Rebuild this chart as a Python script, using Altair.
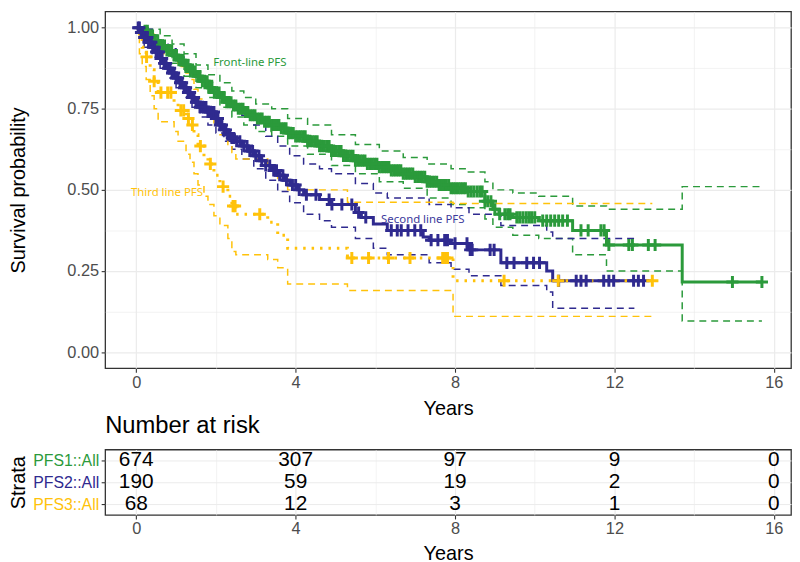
import altair as alt
import pandas as pd

GREEN = "#2b9a3b"
PURPLE = "#2f2a8f"
YELLOW = "#ffc20a"
FONT = "Liberation Sans"

groups = ["PFS1", "PFS2", "PFS3"]
group_colors = [GREEN, "#3d3a9c", YELLOW]

# ---- Kaplan-Meier step curves (time in years, survival) ----
g_t = [0, 0.15, 0.3, 0.45, 0.6, 0.75, 0.9, 1.05, 1.2, 1.35, 1.5, 1.65, 1.8, 1.95, 2.1, 2.25, 2.4, 2.55, 2.7, 2.85,
       3.0, 3.2, 3.4, 3.6, 3.8, 4.0, 4.3, 4.6, 4.9, 5.2, 5.5, 5.8, 6.1, 6.4, 6.7, 7.0, 7.3, 7.6, 7.9, 8.3,
       8.75, 8.95, 9.1, 9.45, 10.1, 10.95, 11.8, 13.7, 15.7]
g_s = [1.0, 0.99, 0.975, 0.96, 0.945, 0.93, 0.915, 0.9, 0.885, 0.865, 0.85, 0.835, 0.815, 0.8, 0.785, 0.77, 0.76, 0.75, 0.74, 0.73,
       0.72, 0.71, 0.70, 0.69, 0.675, 0.665, 0.65, 0.635, 0.62, 0.605, 0.59, 0.58, 0.57, 0.56, 0.55, 0.54, 0.525, 0.515, 0.505, 0.495,
       0.465, 0.44, 0.425, 0.415, 0.405, 0.375, 0.33, 0.216, 0.216]
gu_t = [0, 0.3, 0.6, 0.9, 1.2, 1.5, 1.8, 2.1, 2.4, 2.7, 3.0, 3.4, 3.8, 4.3, 4.9, 5.5, 6.1, 6.7, 7.3, 7.9,
        8.3, 8.75, 8.95, 9.45, 10.1, 10.95, 11.8, 13.7, 15.7]
gu_s = [1.0, 0.995, 0.975, 0.95, 0.92, 0.885, 0.855, 0.83, 0.805, 0.785, 0.765, 0.75, 0.72, 0.70, 0.67, 0.64, 0.62, 0.60, 0.58, 0.565,
        0.555, 0.525, 0.50, 0.49, 0.48, 0.45, 0.44, 0.51, 0.51]
gl_t = [0, 0.3, 0.6, 0.9, 1.2, 1.5, 1.8, 2.1, 2.4, 2.7, 3.0, 3.4, 3.8, 4.3, 4.9, 5.5, 6.1, 6.7, 7.3, 7.9,
        8.3, 8.75, 8.95, 9.45, 10.1, 10.95, 11.8, 13.7, 15.7]
gl_s = [1.0, 0.955, 0.925, 0.89, 0.85, 0.815, 0.785, 0.755, 0.725, 0.70, 0.68, 0.665, 0.635, 0.61, 0.575, 0.55, 0.525, 0.505, 0.475, 0.455,
        0.445, 0.41, 0.385, 0.36, 0.35, 0.30, 0.25, 0.096, 0.096]

p_t = [0, 0.1, 0.2, 0.3, 0.4, 0.5, 0.6, 0.7, 0.8, 0.9, 1.0, 1.1, 1.2, 1.3, 1.4, 1.5, 1.6, 1.8, 2.0, 2.1,
       2.2, 2.3, 2.4, 2.5, 2.65, 2.8, 2.95, 3.1, 3.25, 3.4, 3.55, 3.7, 3.85, 4.05, 4.2, 4.6, 4.9, 5.5, 5.65, 5.95,
       6.3, 7.2, 7.35, 7.9, 8.35, 9.15, 10.3, 10.45, 12.73]
p_s = [1.0, 0.985, 0.97, 0.955, 0.94, 0.925, 0.905, 0.89, 0.875, 0.86, 0.845, 0.83, 0.815, 0.80, 0.785, 0.77, 0.755, 0.74, 0.72, 0.70,
       0.685, 0.67, 0.66, 0.65, 0.635, 0.62, 0.605, 0.59, 0.575, 0.56, 0.545, 0.53, 0.515, 0.50, 0.485, 0.47, 0.455, 0.43, 0.415, 0.395,
       0.375, 0.355, 0.345, 0.335, 0.315, 0.275, 0.25, 0.22, 0.22]
pu_t = [0, 0.2, 0.4, 0.6, 0.8, 1.0, 1.2, 1.4, 1.6, 1.8, 2.0, 2.2, 2.4, 2.65, 2.95, 3.25, 3.55, 3.85, 4.2, 4.6,
        4.9, 5.5, 5.95, 6.3, 7.35, 7.9, 8.35, 9.15, 10.3, 10.45, 12.5]
pu_s = [1.0, 0.995, 0.975, 0.955, 0.935, 0.91, 0.885, 0.86, 0.835, 0.815, 0.795, 0.775, 0.755, 0.73, 0.70, 0.665, 0.635, 0.605, 0.58, 0.565,
        0.55, 0.52, 0.49, 0.475, 0.455, 0.445, 0.425, 0.39, 0.37, 0.35, 0.35]
pl_t = [0, 0.2, 0.4, 0.6, 0.8, 1.0, 1.2, 1.4, 1.6, 1.8, 2.0, 2.2, 2.4, 2.65, 2.95, 3.25, 3.55, 3.85, 4.2, 4.6,
        4.9, 5.5, 5.95, 6.3, 7.35, 7.9, 8.35, 9.15, 10.3, 10.45, 12.5]
pl_s = [1.0, 0.94, 0.91, 0.875, 0.845, 0.815, 0.785, 0.755, 0.725, 0.70, 0.675, 0.65, 0.625, 0.595, 0.565, 0.53, 0.495, 0.46, 0.425, 0.405,
        0.385, 0.35, 0.32, 0.30, 0.275, 0.255, 0.235, 0.205, 0.185, 0.135, 0.135]

y_t = [0, 0.08, 0.15, 0.25, 0.35, 0.45, 0.55, 0.95, 1.05, 1.25, 1.35, 1.45, 1.55, 1.7, 1.8, 1.95, 2.1, 2.3, 2.4, 2.5,
       3.3, 3.55, 3.8, 5.3, 7.95, 12.95]
y_s = [1.0, 0.97, 0.94, 0.91, 0.87, 0.835, 0.80, 0.77, 0.745, 0.72, 0.70, 0.67, 0.635, 0.60, 0.58, 0.545, 0.51, 0.48, 0.45, 0.425,
       0.40, 0.36, 0.32, 0.29, 0.22, 0.22]
yu_t = [0, 0.25, 0.45, 0.55, 0.95, 1.05, 1.25, 1.35, 1.45, 1.55, 1.7, 1.8, 1.95, 2.1, 2.3, 2.4, 2.5, 3.3, 3.55, 3.8,
        5.3, 7.95, 12.95]
yu_s = [1.0, 0.98, 0.95, 0.92, 0.90, 0.88, 0.86, 0.84, 0.81, 0.78, 0.75, 0.73, 0.70, 0.67, 0.64, 0.615, 0.595, 0.57, 0.535, 0.50,
        0.462, 0.458, 0.458]
yl_t = [0, 0.08, 0.15, 0.25, 0.35, 0.45, 0.55, 0.95, 1.05, 1.25, 1.35, 1.45, 1.55, 1.7, 1.8, 1.95, 2.1, 2.3, 2.4, 2.5,
        3.3, 3.55, 3.8, 5.3, 7.95, 12.95]
yl_s = [1.0, 0.92, 0.88, 0.84, 0.79, 0.75, 0.71, 0.68, 0.65, 0.61, 0.585, 0.55, 0.515, 0.48, 0.455, 0.42, 0.39, 0.35, 0.31, 0.30,
        0.285, 0.26, 0.21, 0.19, 0.11, 0.11]

# ---- censoring times (years) ----
g_cens = [0.22, 0.28, 0.35, 0.41, 0.48, 0.54, 0.6, 0.66, 0.71, 0.77, 0.83, 0.89, 0.95, 1.01, 1.07, 1.12, 1.18, 1.24,
          1.3, 1.36, 1.42, 1.48, 1.55, 1.6, 1.66, 1.72, 1.78, 1.84, 1.9, 1.96, 2.02, 2.08, 2.15, 2.21, 2.27, 2.33,
          2.38, 2.44, 2.5, 2.56, 2.62, 2.68, 2.74, 2.8, 2.86, 2.92, 2.98, 3.04, 3.1, 3.16, 3.22, 3.28, 3.34, 3.4,
          3.46, 3.52, 3.58, 3.64, 3.7, 3.76, 3.82, 3.88, 3.94, 4.0, 4.06, 4.12, 4.18, 4.24, 4.3, 4.36, 4.42, 4.48,
          4.54, 4.6, 4.66, 4.72, 4.78, 4.84, 4.9, 4.96, 5.02, 5.08, 5.14, 5.2, 5.26, 5.32, 5.38, 5.44, 5.5, 5.56,
          5.62, 5.68, 5.74, 5.8, 5.86, 5.92, 5.98, 6.04, 6.1, 6.16, 6.22, 6.28, 6.34, 6.4, 6.46, 6.52, 6.58, 6.64,
          6.7, 6.76, 6.82, 6.88, 6.94, 7.0, 7.06, 7.12, 7.18, 7.24, 7.3, 7.36, 7.42, 7.48, 7.54, 7.6, 7.66, 7.72,
          7.78, 7.84, 7.9, 7.96, 8.02, 8.08, 8.14, 8.2, 8.26, 8.33, 8.4, 8.47, 8.55, 8.62, 8.68, 8.75, 8.82, 8.9,
          9.0, 9.12, 9.25, 9.32, 9.38, 9.55, 9.62, 9.7, 9.78, 9.85, 9.92, 10.0, 10.2, 10.3, 10.4, 10.5, 10.6, 10.7,
          10.82, 11.16, 11.34, 11.66, 11.74, 11.86, 12.36, 12.45, 12.85, 13.02, 14.96, 15.7]
p_cens = [0.05, 0.08, 0.12, 0.16, 0.2, 0.24, 0.28, 0.31, 0.35, 0.38, 0.42, 0.46, 0.5, 0.53, 0.57, 0.61, 0.65, 0.7,
          0.75, 0.8, 0.85, 0.9, 0.95, 1.0, 1.05, 1.1, 1.15, 1.2, 1.25, 1.3, 1.35, 1.4, 1.45, 1.5, 1.55, 1.6, 1.65,
          1.7, 1.75, 1.8, 1.85, 1.9, 1.95, 2.0, 2.05, 2.1, 2.15, 2.2, 2.25, 2.3, 2.35, 2.4, 2.45, 2.52, 2.6, 2.7,
          2.78, 2.85, 2.92, 3.0, 3.08, 3.15, 3.25, 3.35, 3.45, 3.52, 3.6, 3.68, 3.77, 3.92, 4.0, 4.09, 4.27, 4.51,
          4.84, 4.91, 5.16, 5.41, 5.58, 5.76, 6.4, 6.55, 6.65, 6.82, 6.99, 7.14, 7.4, 7.57, 7.74, 7.81, 8.0, 8.3,
          8.38, 8.43, 8.88, 8.98, 9.3, 9.48, 9.8, 9.97, 10.12, 10.6, 11.04, 11.16, 11.29, 11.73, 11.86, 11.98,
          12.48, 12.6, 12.73]
y_cens = [0.26, 0.45, 0.62, 0.79, 0.87, 1.12, 1.19, 1.31, 1.41, 1.61, 1.86, 2.18, 2.43, 2.48, 3.1, 5.41, 5.83, 6.33, 6.87,
          7.69, 7.74, 7.81, 9.23, 10.59, 12.95]

# ---- labels on the curves ----
label_text = ["Front-line PFS", "Second line PFS", "Third line PFS"]
label_t = [2.85, 7.19, 0.77]
label_s = [0.892, 0.407, 0.491]

# ---- number at risk table ----
risk_times = [0, 4, 8, 12, 16]
strata = ["PFS1::All", "PFS2::All", "PFS3::All"]
risk_pfs1 = [674, 307, 97, 9, 0]
risk_pfs2 = [190, 59, 19, 2, 0]
risk_pfs3 = [68, 12, 3, 1, 0]

x_ticks = [0, 2, 4, 6, 8, 10, 12, 14, 16]
y_ticks = [0, 0.125, 0.25, 0.375, 0.5, 0.625, 0.75, 0.875, 1.0]


def step_at(ts, ss, t):
    val = ss[0]
    for ti, si in zip(ts, ss):
        if ti <= t:
            val = si
    return val


xscale = alt.Scale(domain=[-0.78, 16.43], nice=False, zero=False)
yscale = alt.Scale(domain=[-0.05, 1.05], nice=False, zero=False)

major_x = "datum.value % 4 === 0"
major_y = "round(datum.value * 8) % 2 === 0"


def x_axis(title="Years", pad=8):
    return alt.Axis(values=x_ticks, title=title,
                    labelExpr="datum.value % 4 === 0 ? datum.label : ''",
                    tickOpacity={"condition": {"test": major_x, "value": 1}, "value": 0},
                    gridWidth={"condition": {"test": major_x, "value": 1.2}, "value": 0.6},
                    labelFontSize=16.5, titleFontSize=20, labelPadding=2, titlePadding=pad)


y_axis = alt.Axis(values=y_ticks, title="Survival probability",
                  labelExpr="round(datum.value * 8) % 2 === 0 ? format(datum.value, '.2f') : ''",
                  tickOpacity={"condition": {"test": major_y, "value": 1}, "value": 0},
                  gridWidth={"condition": {"test": major_y, "value": 1.2}, "value": 0.6},
                  labelFontSize=16.5, titleFontSize=20, labelPadding=2.5,
                  titleX=-77, titleY=180)

series = [
    (GREEN, g_t, g_s, gu_t, gu_s, gl_t, gl_s, g_cens, [0]),
    (PURPLE, p_t, p_s, pu_t, pu_s, pl_t, pl_s, p_cens, [0]),
    (YELLOW, y_t, y_s, yu_t, yu_s, yl_t, yl_s, y_cens, [2.5, 6]),
]

ci_layers, main_layers, cens_layers = [], [], []
for color, mt, ms, ut, us, lt, ls, cens, dash in series:
    for ct, cs in ((ut, us), (lt, ls)):
        df = pd.DataFrame({"t": ct, "s": cs})
        ci_layers.append(
            alt.Chart(df).mark_line(interpolate="step-after", color=color, strokeWidth=1.5, strokeDash=[7, 5])
            .encode(x=alt.X("t:Q", scale=xscale, axis=x_axis()), y=alt.Y("s:Q", scale=yscale, axis=y_axis))
        )
    df = pd.DataFrame({"t": mt, "s": ms})
    main_kw = dict(interpolate="step-after", color=color, strokeWidth=3)
    if dash != [0]:
        main_kw["strokeDash"] = dash
    main_layers.append(
        alt.Chart(df).mark_line(**main_kw)
        .encode(x=alt.X("t:Q", scale=xscale, axis=x_axis()), y=alt.Y("s:Q", scale=yscale, axis=y_axis))
    )
    cdf = pd.DataFrame({"t": cens, "s": [step_at(mt, ms, c) for c in cens]})
    cens_layers.append(
        alt.Chart(cdf).mark_point(shape="M-1,0H1M0,-1V1", filled=False, size=150, strokeWidth=3,
                                  color=color, opacity=1)
        .encode(x=alt.X("t:Q", scale=xscale, axis=x_axis()), y=alt.Y("s:Q", scale=yscale, axis=y_axis))
    )

lab_df = pd.DataFrame({"label": label_text, "t": label_t, "s": label_s, "c": group_colors})
text_layer = alt.Chart(lab_df).mark_text(font="Noto Sans", fontSize=11.5).encode(
    x=alt.X("t:Q", scale=xscale, axis=x_axis()), y=alt.Y("s:Q", scale=yscale, axis=y_axis),
    text="label:N", color=alt.Color("c:N", scale=None))

main = alt.layer(*ci_layers, *main_layers, *cens_layers, text_layer).properties(width=692, height=360)

risk_df = pd.DataFrame({
    "t": risk_times * 3,
    "strata": [strata[0]] * 5 + [strata[1]] * 5 + [strata[2]] * 5,
    "n": risk_pfs1 + risk_pfs2 + risk_pfs3,
})

strata_color = {"condition": [
    {"test": f"datum.value === '{strata[0]}'", "value": GREEN},
    {"test": f"datum.value === '{strata[1]}'", "value": PURPLE},
], "value": YELLOW}

risk = alt.Chart(risk_df).mark_text(font=FONT, fontSize=21, color="black").encode(
    x=alt.X("t:Q", scale=xscale, axis=x_axis(pad=6)),
    y=alt.Y("strata:N", sort=strata, scale=alt.Scale(type="point", padding=0.5),
            axis=alt.Axis(title="Strata", labelColor=strata_color, labelFontSize=16, titleFontSize=20,
                          labelPadding=2.5, titleX=-77, titleY=33)),
    text="n:Q",
).properties(width=692, height=66,
             title=alt.TitleParams("Number at risk", anchor="start", frame="group", fontSize=24,
                                   font=FONT, fontWeight="normal", color="black", offset=12))

chart = alt.vconcat(main, risk, spacing=-7).properties(
    padding={"left": 0, "top": 0, "right": 0, "bottom": 0}
).configure_view(stroke="#333333", strokeWidth=1.3).configure_axis(
    domain=False, grid=True, gridColor="#ebebeb", labelFont=FONT, titleFont=FONT,
    labelColor="#4d4d4d", titleColor="black", titleFontWeight="normal",
    tickColor="#333333", tickSize=4, tickWidth=1.1,
)

chart.save("out.html", embed_options={"renderer": "svg", "actions": False})
